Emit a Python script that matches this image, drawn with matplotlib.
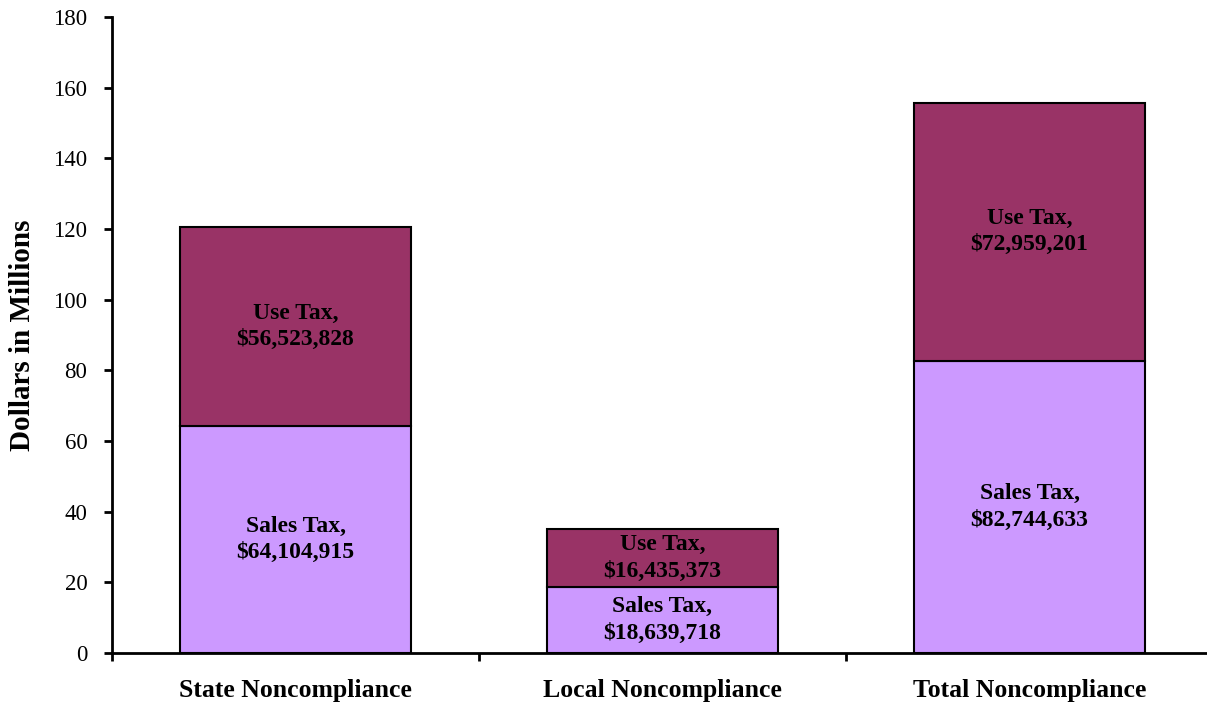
import matplotlib
matplotlib.use("Agg")
import matplotlib.pyplot as plt
import numpy as np

categories = ["State Noncompliance", "Local Noncompliance", "Total Noncompliance"]
sales_tax = [64.104915, 18.639718, 82.744633]
use_tax = [56.523828, 16.435373, 72.959201]
sales_labels = ["Sales Tax,\n$64,104,915", "Sales Tax,\n$18,639,718", "Sales Tax,\n$82,744,633"]
use_labels = ["Use Tax,\n$56,523,828", "Use Tax,\n$16,435,373", "Use Tax,\n$72,959,201"]
yticks = [0, 20, 40, 60, 80, 100, 120, 140, 160, 180]

plt.rcParams['font.family'] = ['Liberation Serif', 'DejaVu Serif']

fig = plt.figure(figsize=(12.07, 7.04), dpi=100)
ax = fig.add_axes([112/1207, 1-653/704, 1101/1207, 636/704])

x = np.arange(len(categories)) + 0.5
w = 0.627
ax.bar(x, sales_tax, width=w, color="#CC99FF", edgecolor="black", linewidth=1.5, zorder=2)
ax.bar(x, use_tax, width=w, bottom=sales_tax, color="#993366", edgecolor="black", linewidth=1.5, zorder=2)

for xi, s, u, sl, ul in zip(x, sales_tax, use_tax, sales_labels, use_labels):
    ax.text(xi, s/2, sl, ha="center", va="center", fontsize=17, fontweight="bold", linespacing=1.33)
    ax.text(xi, s + u/2, ul, ha="center", va="center", fontsize=17, fontweight="bold", linespacing=1.33)

ax.set_xlim(0, 3)
ax.set_ylim(0, 180)
ax.set_yticks(yticks)
ax.set_yticklabels([str(t) for t in yticks], fontsize=16.5)
ax.set_xticks([0, 1, 2, 3])
ax.set_xticklabels([])
ax.set_xticks(x, minor=True)
ax.set_xticklabels(categories, minor=True, fontsize=18.5, fontweight="bold")
ax.tick_params(axis="x", which="minor", length=0, pad=19)
ax.tick_params(axis="x", which="major", length=5.8, width=2, direction="out")
ax.tick_params(axis="y", length=5.8, width=2, direction="out", pad=12)
ax.spines["top"].set_visible(False)
ax.spines["right"].set_visible(False)
ax.spines["left"].set_linewidth(2)
ax.spines["bottom"].set_linewidth(2)
ax.set_ylabel("Dollars in Millions", fontsize=21, fontweight="bold", labelpad=12)

fig.savefig("out.png", dpi=100)
